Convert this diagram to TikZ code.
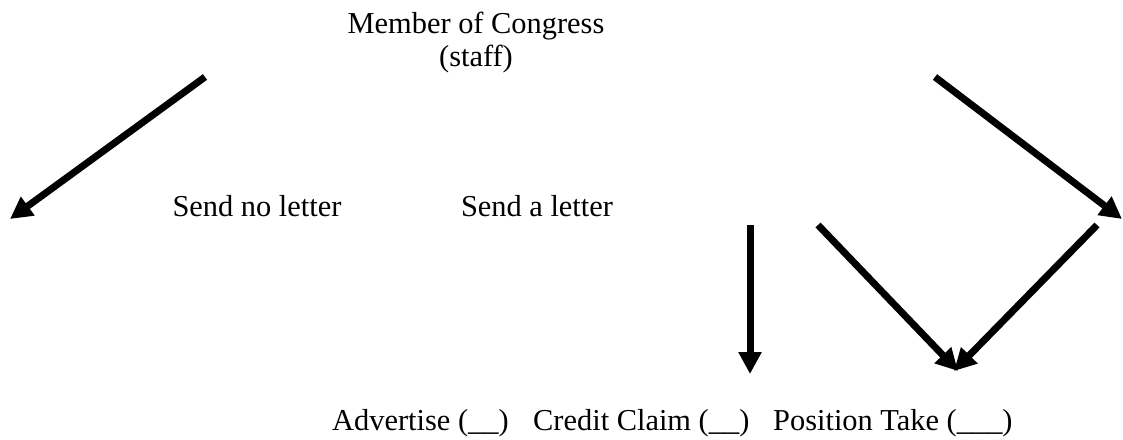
\documentclass[tikz,border=0pt]{standalone}
\usepackage{fontspec}
\setmainfont{Liberation Serif}
\usetikzlibrary{arrows.meta}
\begin{document}
\begin{tikzpicture}[x=1pt,y=-1pt,
  lbl/.style={font=\fontsize{30.4}{34}\selectfont, inner sep=0pt},
  arr/.style={line width=7pt, -{Triangle[length=22pt,width=22pt]}}]
\useasboundingbox (0,0) rectangle (1123,439);
\node[lbl, anchor=base] (mc) at (476,33) {Member of Congress};
\node[lbl, anchor=base] (st) at (476,66) {(staff)};
\node[lbl, anchor=base] (nl) at (257,216) {Send no letter};
\node[lbl, anchor=base] (sl) at (537,216) {Send a letter};
\node[lbl, anchor=base west] (ad) at (332,430) {Advertise (\_\_)};
\node[lbl, anchor=base west] (cc) at (533,430) {Credit Claim (\_\_)};
\node[lbl, anchor=base west] (pt) at (773,430) {Position Take (\_\_\_)};
\coordinate (a1s) at (205,77);  \coordinate (a1e) at (10,219);
\coordinate (a2s) at (935,77);  \coordinate (a2e) at (1122,219);
\coordinate (a3s) at (750,225); \coordinate (a3e) at (750,374);
\coordinate (a4s) at (818,225); \coordinate (a4e) at (958,371);
\coordinate (a5s) at (1097,225);\coordinate (a5e) at (954,371);
\draw[arr] (a1s) -- (a1e);
\draw[arr] (a2s) -- (a2e);
\draw[arr] (a3s) -- (a3e);
\draw[arr] (a4s) -- (a4e);
\draw[arr] (a5s) -- (a5e);
\end{tikzpicture}
\end{document}
